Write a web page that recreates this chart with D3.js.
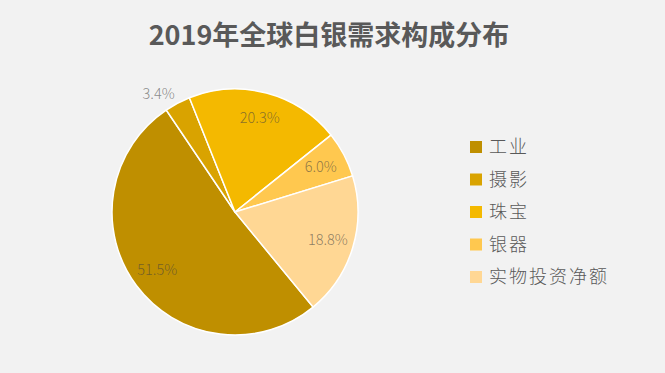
<!DOCTYPE html>
<html>
<head>
<meta charset="utf-8">
<script src="https://cdn.jsdelivr.net/npm/d3@7"></script>
<style>
  body { margin: 0; background: #f2f2f2; }
  text { font-family: "Noto Sans CJK SC", "Noto Sans", sans-serif; }
</style>
</head>
<body>
<div id="chart"></div>
<script>
var categories = ["工业", "摄影", "珠宝", "银器", "实物投资净额"];
var shares = [51.5, 3.4, 20.3, 6.0, 18.8];
var colors = ["#bf8f00", "#d9a300", "#f4b900", "#ffc84f", "#ffd794"];

var w = 665;
var h = 373;
var cx = 235, cy = 212, radius = 123;
var startDeg = 140.6;

var svg = d3.select("#chart")
  .append("svg")
  .attr("width", w)
  .attr("height", h);

svg.append("rect")
  .attr("width", w)
  .attr("height", h)
  .attr("fill", "#f2f2f2");

// title
svg.append("text")
  .attr("x", 329)
  .attr("y", 45)
  .attr("text-anchor", "middle")
  .attr("font-size", "27px")
  .attr("font-weight", "bold")
  .attr("fill", "#595959")
  .text("2019年全球白银需求构成分布");

var data = categories.map(function(c, i) {
  return { name: c, value: shares[i], color: colors[i] };
});

var pie = d3.pie()
  .sort(null)
  .value(function(d) { return d.value; })
  .startAngle(startDeg * Math.PI / 180)
  .endAngle((startDeg + 360) * Math.PI / 180);

var arc = d3.arc().innerRadius(0).outerRadius(radius);
var labelArc = d3.arc().innerRadius(97).outerRadius(97);
var outerArc = d3.arc().innerRadius(129).outerRadius(129);

var g = svg.append("g")
  .attr("transform", "translate(" + cx + "," + cy + ")");

var arcs = pie(data);

g.selectAll("path")
  .data(arcs)
  .enter()
  .append("path")
  .attr("d", arc)
  .attr("fill", function(d) { return d.data.color; })
  .attr("stroke", "#ffffff")
  .attr("stroke-width", 1.5);

// data labels - small slices go outside
g.selectAll(".lbl")
  .data(arcs)
  .enter()
  .append("text")
  .attr("class", "lbl")
  .attr("transform", function(d) {
    var small = d.data.value < 5;
    var p = small ? outerArc.centroid(d) : labelArc.centroid(d);
    if (small) p[1] -= 4;
    return "translate(" + p + ")";
  })
  .attr("text-anchor", function(d) { return d.data.value < 5 ? "end" : "middle"; })
  .attr("dy", "0.35em")
  .attr("font-size", "14.5px")
  .attr("font-weight", 300)
  .attr("fill", "#404040")
  .attr("fill-opacity", 0.6)
  .text(function(d) { return d.data.value.toFixed(1) + "%"; });

// legend
var legend = svg.append("g")
  .attr("transform", "translate(470,147)");

var item = legend.selectAll("g")
  .data(data)
  .enter()
  .append("g")
  .attr("transform", function(d, i) { return "translate(0," + (i * 32.5) + ")"; });

item.append("rect")
  .attr("x", 0)
  .attr("y", -6)
  .attr("width", 12)
  .attr("height", 12)
  .attr("fill", function(d) { return d.color; });

item.append("text")
  .attr("x", 19)
  .attr("dy", "0.35em")
  .attr("font-size", "18px")
  .attr("font-weight", 300)
  .attr("letter-spacing", "2px")
  .attr("fill", "#595959")
  .text(function(d) { return d.name; });
</script>
</body>
</html>
